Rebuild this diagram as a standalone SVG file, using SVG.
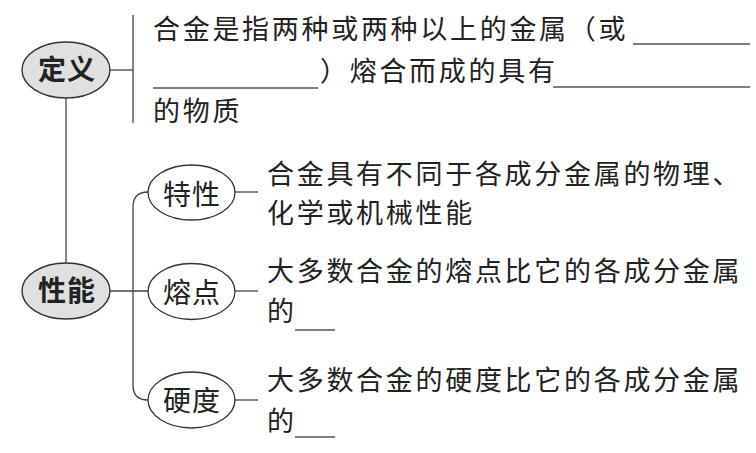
<svg xmlns="http://www.w3.org/2000/svg" width="756" height="453" viewBox="0 0 756 453">
<style>
.t{font-family:"Noto Sans CJK SC","Noto Sans CJK TC",sans-serif;font-size:27px;fill:#222;letter-spacing:2.7px}
.lb{font-family:"Noto Sans CJK SC","Noto Sans CJK TC",sans-serif;font-size:28px;fill:#222;text-anchor:middle;letter-spacing:1px}
.b{font-weight:bold}
.main{fill:#e0e0e0;stroke:#333;stroke-width:1.4}
.sub{fill:#fff;stroke:#333;stroke-width:1.3}
.c{fill:none;stroke:#444;stroke-width:1.3}
.u{stroke:#555;stroke-width:1.5}
</style>
<rect width="756" height="453" fill="#fff"/>
<g id="connectors">
<line class="c" x1="66" y1="98" x2="66" y2="263"/>
<line class="c" x1="110" y1="70" x2="133" y2="70"/>
<line class="c" x1="133" y1="15" x2="133" y2="123"/>
<line class="c" x1="110" y1="291" x2="148" y2="291"/>
<path class="c" d="M148,192 Q133,192 133,207 L133,385 Q133,400 148,400"/>
<line class="c" x1="235" y1="192" x2="258" y2="192"/>
<line class="c" x1="235" y1="291" x2="258" y2="291"/>
<line class="c" x1="235" y1="400" x2="258" y2="400"/>
</g>
<g id="node-dingyi">
<ellipse class="main" cx="66" cy="70" rx="44" ry="28"/>
<text class="lb b" x="67" y="80">定义</text>
</g>
<g id="node-xingneng">
<ellipse class="main" cx="66" cy="291" rx="44" ry="28"/>
<text class="lb b" x="67" y="301">性能</text>
</g>
<g id="node-texing">
<ellipse class="sub" cx="191.5" cy="192.5" rx="43.5" ry="27.5"/>
<text class="lb" x="192" y="205">特性</text>
</g>
<g id="node-rongdian">
<ellipse class="sub" cx="191.5" cy="291.5" rx="43.5" ry="28"/>
<text class="lb" x="192" y="303">熔点</text>
</g>
<g id="node-yingdu">
<ellipse class="sub" cx="191.5" cy="400" rx="43.5" ry="28"/>
<text class="lb" x="192" y="411">硬度</text>
</g>
<g id="text-dingyi">
<text class="t" x="153" y="39">合金是指两种或两种以上的金属（或</text>
<line class="u" x1="633" y1="44" x2="750" y2="44"/>
<line class="u" x1="153" y1="88" x2="318" y2="88"/>
<text class="t" x="320" y="81">）熔合而成的具有</text>
<line class="u" x1="553" y1="87" x2="750" y2="87"/>
<text class="t" x="153" y="121">的物质</text>
</g>
<g id="text-texing">
<text class="t" x="267" y="184">合金具有不同于各成分金属的物理、</text>
<text class="t" x="267" y="223">化学或机械性能</text>
</g>
<g id="text-rongdian">
<text class="t" x="267" y="281">大多数合金的熔点比它的各成分金属</text>
<text class="t" x="267" y="321">的</text>
<line class="u" x1="295" y1="330" x2="335" y2="330"/>
</g>
<g id="text-yingdu">
<text class="t" x="267" y="390">大多数合金的硬度比它的各成分金属</text>
<text class="t" x="267" y="431">的</text>
<line class="u" x1="295" y1="437" x2="335" y2="437"/>
</g>
</svg>
